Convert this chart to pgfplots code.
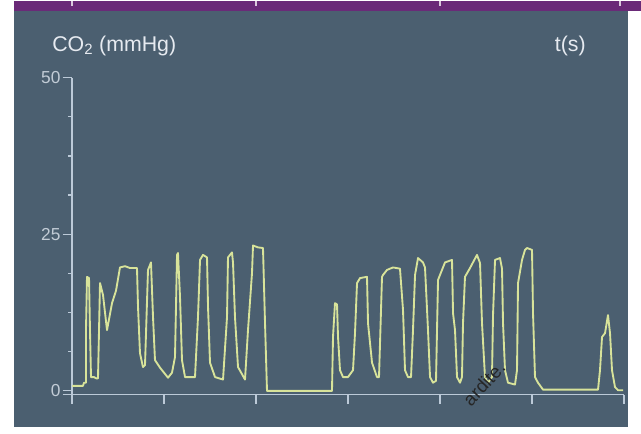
\documentclass[border=0pt]{standalone}
\usepackage{fontspec}
\setmainfont{Liberation Sans}
\usepackage{pgfplots}
\pgfplotsset{compat=1.18}
\definecolor{panel}{HTML}{4B5F70}
\definecolor{topbar}{HTML}{6A2A78}
\definecolor{axiscol}{HTML}{BCCAD8}
\definecolor{tickcol}{HTML}{C2CCD6}
\definecolor{labelcol}{HTML}{E6EAF0}
\definecolor{tracecol}{HTML}{D8E39A}
\begin{document}
\begin{tikzpicture}[x=0.75pt,y=0.75pt]
\fill[white] (0,0) rectangle (641,433);
\fill[panel] (14,7) rectangle (628,423);
\fill[topbar] (14,423) rectangle (641,433);
\foreach \p in {72,256,440,620}{\draw[white!75!topbar, line width=0.9pt] (\p,433) -- (\p,428);}
\node[anchor=west, text=labelcol, inner sep=0pt, font=\fontsize{16}{18}\selectfont] at (52,388) {CO\textsubscript{2} (mmHg)};
\node[anchor=east, text=labelcol, inner sep=0pt, font=\fontsize{16}{18}\selectfont] at (586,388) {t(s)};
\begin{axis}[
  at={(54pt,29.25pt)}, anchor=south west,
  scale only axis, width=414pt, height=237.75pt,
  xmin=0, xmax=12, ymin=-0.6, ymax=50,
  axis lines=left,
  axis line style={-, color=axiscol, line width=1pt},
  x axis line style={shorten <=-7pt},
  y axis line style={shorten <=-4pt},
  xtick={0,2,...,12}, xticklabels={},
  ytick={0,25,50}, yticklabels={0,25,50},
  minor y tick num=3,
  tick align=outside,
  major tick length=7pt, minor tick length=3pt,
  tick style={color=axiscol, line width=0.9pt},
  yticklabel style={text=tickcol, font=\fontsize{13}{15}\selectfont, inner sep=1.5pt},
]
\addplot[tracecol, line width=1.4pt, line join=round] coordinates {
(0,0.8) (0.239,0.8) (0.261,1.3) (0.304,1.3) (0.304,9.7) (0.326,18.2) (0.370,18) (0.391,9.7) (0.413,2.2) (0.478,2.2) (0.522,2.0) (0.565,2.0)
(0.609,17.2) (0.674,15.3) (0.761,9.7) (0.870,14) (0.957,16) (1.043,19.7) (1.152,19.9) (1.261,19.6) (1.413,19.6) (1.435,13.4) (1.478,6) (1.543,3.8) (1.587,4.1)
(1.652,19.3) (1.717,20.5) (1.761,11.8) (1.804,4.9) (1.913,3.7) (2.022,2.7) (2.087,2.1) (2.174,2.9) (2.239,5.4) (2.283,21.7) (2.304,22) (2.348,15) (2.391,4.9)
(2.457,2.2) (2.674,2.2) (2.739,11.8) (2.783,20.9) (2.848,21.7) (2.935,21.3) (2.957,13.4) (3.000,4.5) (3.109,2.2) (3.283,1.8) (3.370,11.8) (3.391,21.3)
(3.478,22.1) (3.500,20.5) (3.543,11.8) (3.609,3.8) (3.761,1.8) (3.826,9.7) (3.913,18.8) (3.935,23.2) (4.043,22.9) (4.152,22.8) (4.196,10.8) (4.239,0)
(5.652,0) (5.674,8.6) (5.717,14) (5.761,13.8) (5.783,8.6) (5.826,3.3) (5.891,2.2) (6.000,2.2) (6.109,3.3) (6.152,9.2) (6.196,17.2) (6.261,18) (6.413,18.2)
(6.435,10.8) (6.522,4.5) (6.630,2.2) (6.674,2.2) (6.739,18.2) (6.761,18.5) (6.848,19.3) (6.978,19.7) (7.130,19.5) (7.196,12.9) (7.239,3.3) (7.304,2.2)
(7.370,2.2) (7.413,9.7) (7.457,18.5) (7.522,21.2) (7.630,20.5) (7.674,19.7) (7.739,9.7) (7.783,2.2) (7.848,1.3) (7.913,1.6) (7.935,9.7) (7.957,17.7)
(8.043,19.3) (8.109,20.5) (8.261,20.9) (8.283,12.4) (8.326,9.7) (8.370,2.2) (8.435,1.3) (8.478,2.2) (8.500,10.8) (8.543,18.2) (8.652,19.6) (8.804,21.7)
(8.870,20.4) (8.913,10.8) (8.978,2.2) (9.043,1.3) (9.130,2.2) (9.152,12) (9.196,20.9) (9.304,21.2) (9.348,19.5) (9.370,10.8) (9.413,3.3) (9.478,1.3)
(9.630,1.0) (9.674,3.3) (9.696,17.2) (9.783,20.9) (9.848,22.5) (9.891,22.8) (10.000,22.5) (10.022,12.4) (10.065,2.2) (10.130,1.3) (10.239,0.2)
(11.435,0.2) (11.478,3.3) (11.522,8.6) (11.587,9.2) (11.652,12.1) (11.696,9.2) (11.739,3.3) (11.804,0.6) (11.870,0.1) (11.978,0.1)
};
\end{axis}
\node[rotate=47, text=black!85, inner sep=0pt, font=\fontsize{14}{14}\selectfont] at (484,50) {ardite.};
\end{tikzpicture}
\end{document}
